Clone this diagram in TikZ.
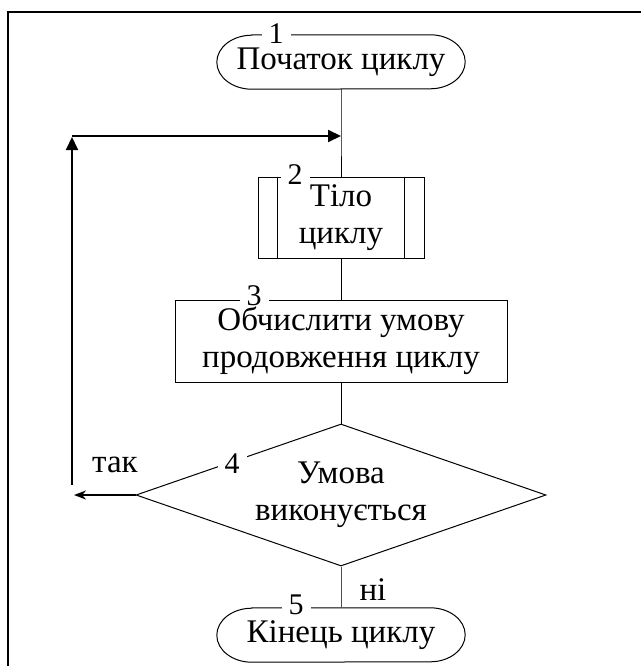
\documentclass[tikz,border=0pt]{standalone}
\usepackage{fontspec}
\setmainfont{Liberation Serif}
\usetikzlibrary{shapes.geometric,arrows.meta}
\begin{document}
\begin{tikzpicture}[x=1pt,y=-1pt,
  every node/.style={font=\fontsize{33}{37}\selectfont},
  shp/.style={draw, line width=1pt, inner sep=0pt, align=center},
  term/.style={inner sep=0pt, minimum width=248pt, minimum height=54pt},
  lbl/.style={fill=white, inner xsep=7pt, inner ysep=0pt, font=\fontsize{30}{31}\selectfont},
  flow/.style={line width=1pt},
  thinflow/.style={line width=0.8pt, black!70},
  loopline/.style={line width=2pt},
  bigtip/.style={-{Triangle[length=13pt,width=12pt]}},
  smalltip/.style={-{Stealth[length=12pt,width=9pt]}}
]
\useasboundingbox (0,0) rectangle (641,666);
% frame
\draw[line width=2.2pt] (8,666) -- (8,12) -- (641,12);

% 1: terminal
\node[term] (t1) at (341,62) {Початок циклу};
\draw[flow] ([xshift=35pt]t1.north west) -- ([xshift=-35pt]t1.north east)
  arc[start angle=90,end angle=-90,x radius=35pt,y radius=27pt]
  -- ([xshift=35pt]t1.south west)
  arc[start angle=270,end angle=90,x radius=35pt,y radius=27pt] -- cycle;

% 2: predefined process
\node[shp, minimum width=166pt, minimum height=81pt] (b2) at (341,217.5) {Тіло\\циклу};
\draw[flow] ([xshift=20pt]b2.north west) -- ([xshift=20pt]b2.south west);
\draw[flow] ([xshift=-20pt]b2.north east) -- ([xshift=-20pt]b2.south east);

% 3: process
\node[shp, minimum width=332pt, minimum height=82pt] (b3) at (341,341) {Обчислити умову\\продовження циклу};

% 4: decision
\node[shp, diamond, aspect=2.9, minimum width=410pt, minimum height=142pt] (d4) at (341,495) {Умова\\виконується};

% 5: terminal
\node[term] (t5) at (341,635) {Кінець циклу};
\draw[flow] ([xshift=35pt]t5.north west) -- ([xshift=-35pt]t5.north east)
  arc[start angle=90,end angle=-90,x radius=35pt,y radius=27pt]
  -- ([xshift=35pt]t5.south west)
  arc[start angle=270,end angle=90,x radius=35pt,y radius=27pt] -- cycle;

% connectors
\coordinate (j) at (341,136);
\draw[flow] (t1.south) -- (j) -- (b2.north);
\draw[flow] (b2.south) -- (b3.north);
\draw[flow] (b3.south) -- (d4.north);
\draw[thinflow] (d4.south) -- (t5.north);

% loop back
\coordinate (la) at (74,495);
\coordinate (lb) at (72,485);
\coordinate (lc) at (72,136);
\draw[loopline, smalltip] (d4.west) -- (la);
\draw[loopline, bigtip] (lb) -- ([yshift=-1pt]lc);
\draw[loopline, bigtip] (lc) -- (j);

% labels
\node[lbl] (n1) at (276,34) {1};
\node[lbl] (n2) at (295,175) {2};
\node[lbl] (n3) at (254,296) {3};
\node[lbl] (n4) at (232,464) {4};
\node[lbl] (n5) at (296,605) {5};
\node (tak) at (115,465) {так};
\node (ni) at (373,590) {ні};
\end{tikzpicture}
\end{document}
